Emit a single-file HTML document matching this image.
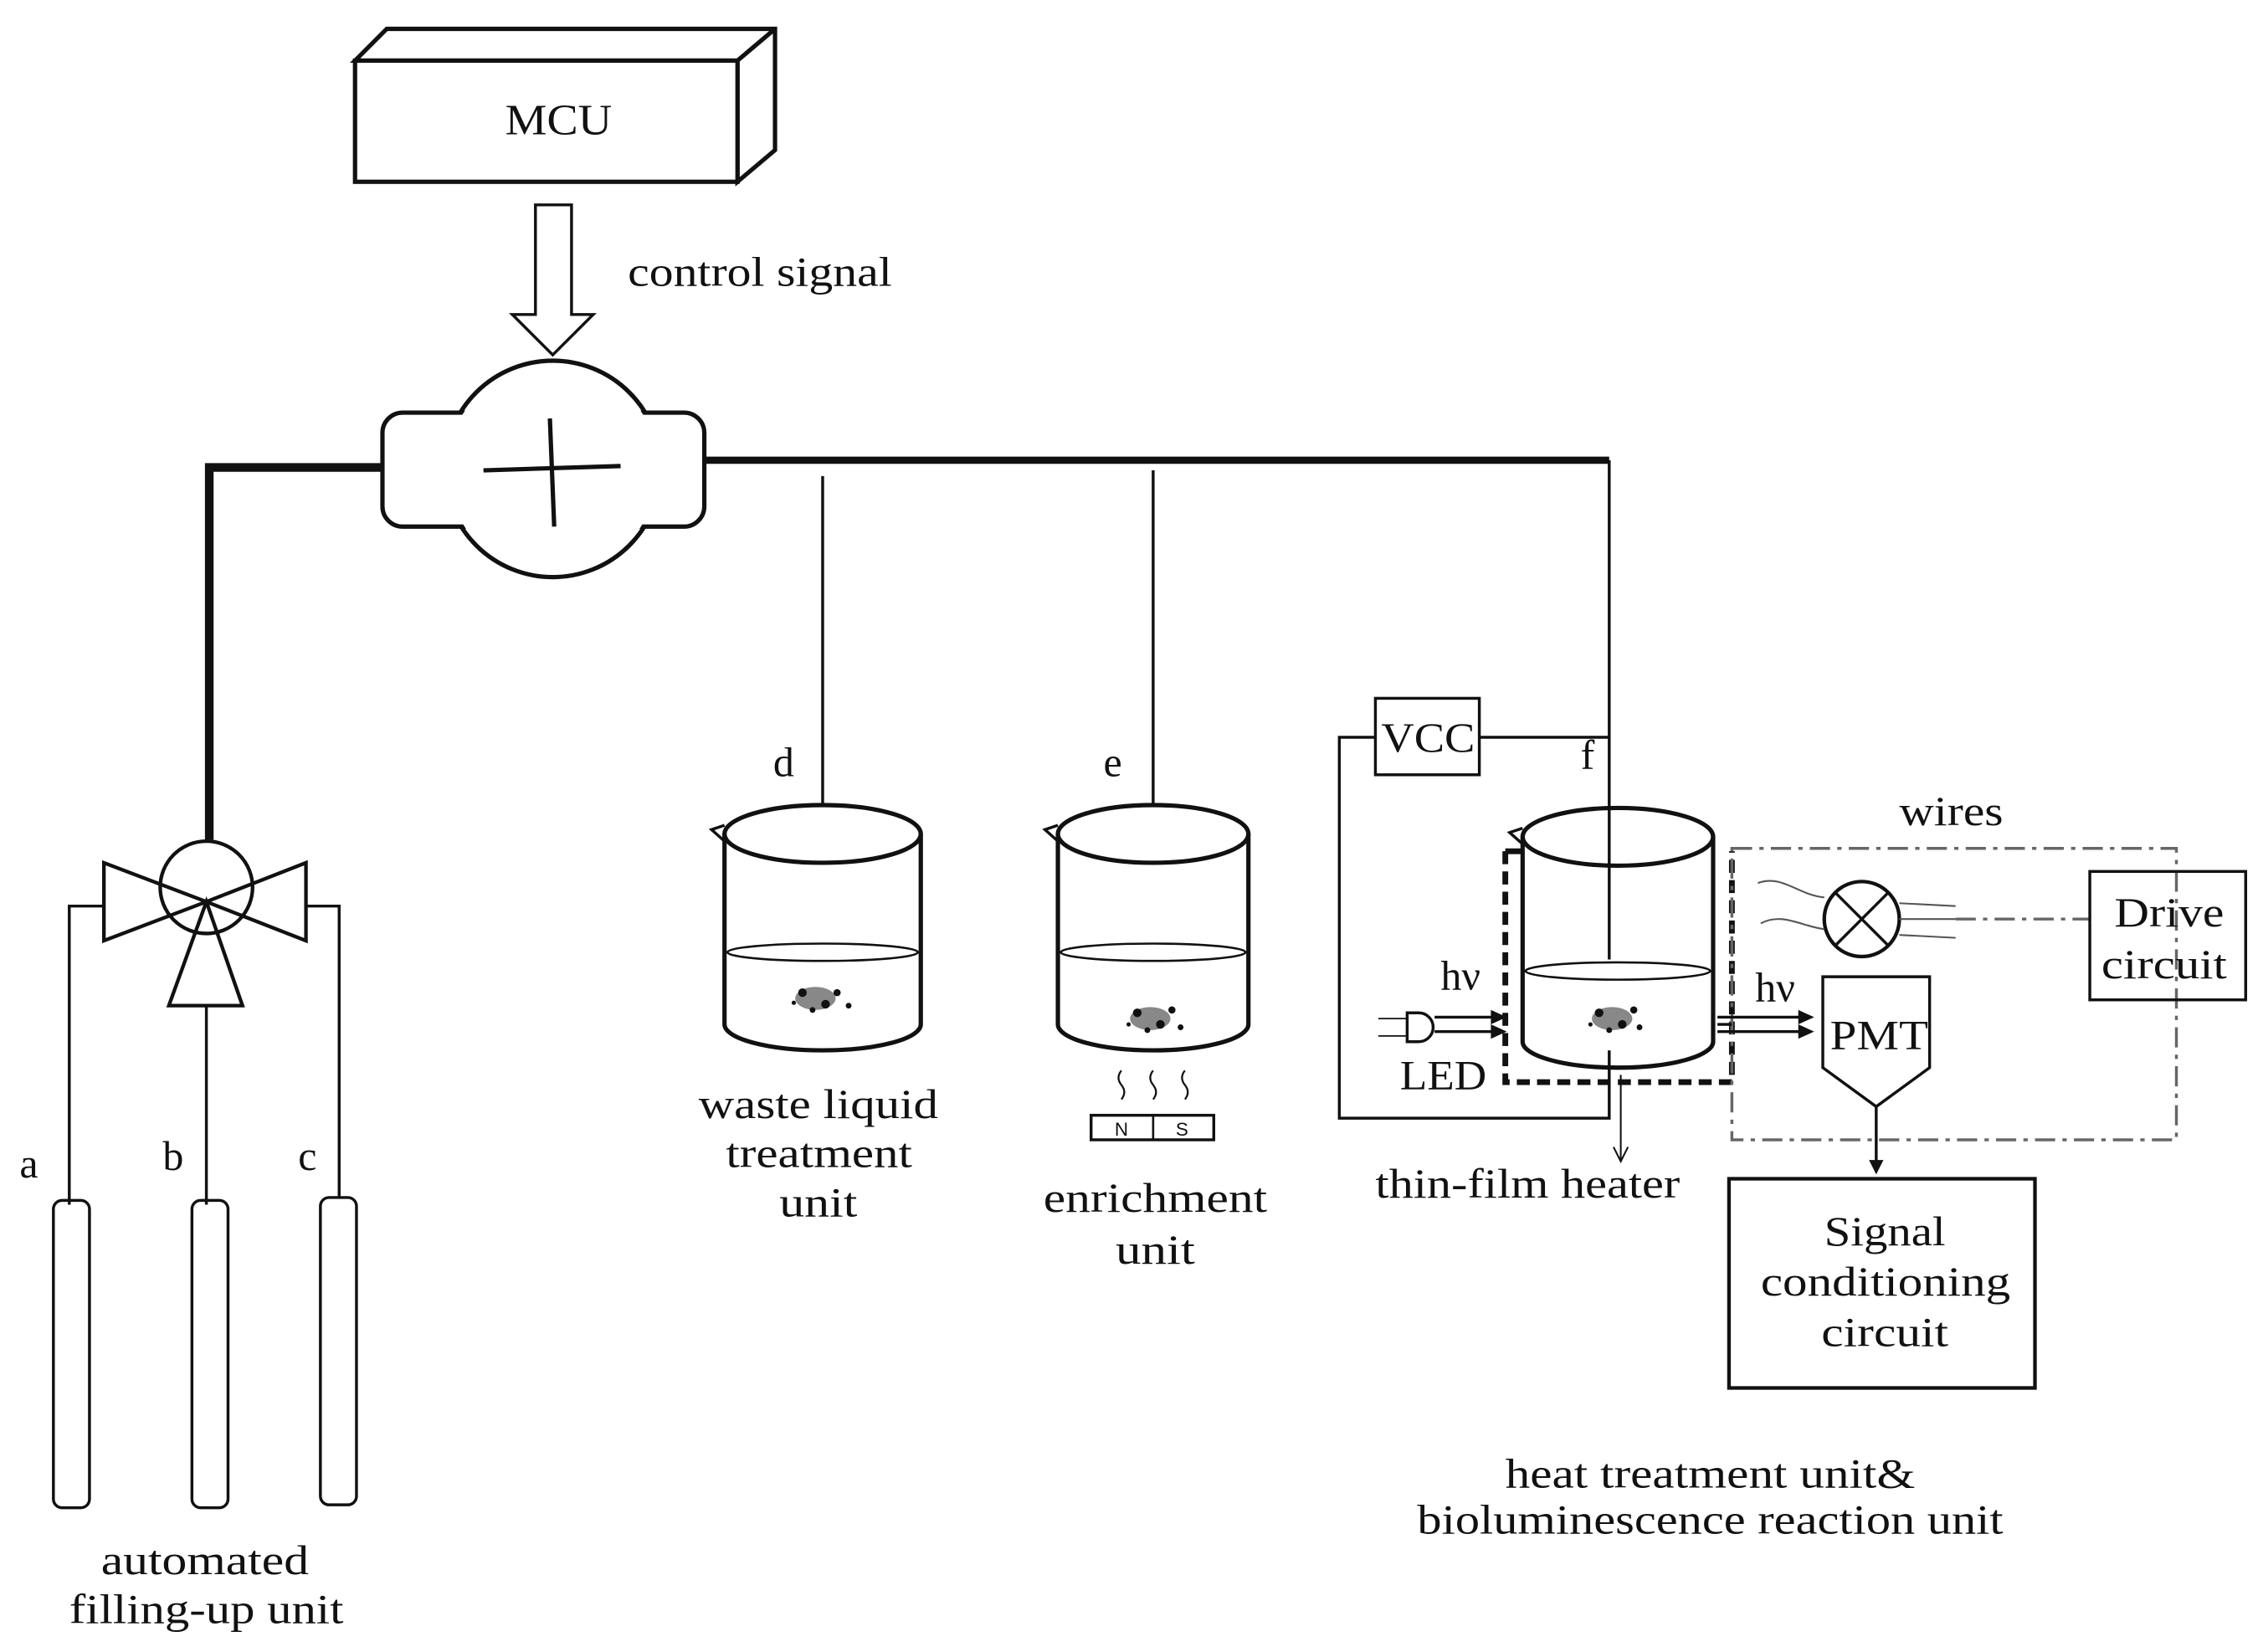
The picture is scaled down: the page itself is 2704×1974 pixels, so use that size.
<!DOCTYPE html>
<html><head><meta charset="utf-8"><style>
html,body{margin:0;padding:0;background:#fff}
svg{display:block}
text{font-family:"Liberation Serif",serif;fill:#111}
</style></head><body>
<svg width="2704" height="1974" viewBox="0 0 1568 1145" preserveAspectRatio="none" xmlns="http://www.w3.org/2000/svg">
<g fill="none" stroke="#111" stroke-width="3">
<polygon points="246,42 268,20 537,20 537,104 511,126 511,42" fill="#fff"/>
<line x1="511" y1="42" x2="537" y2="20"/>
<rect x="246" y="42" width="265" height="84" fill="#fff"/>
<polygon points="371,142 396,142 396,218 411,218 383,246 355,218 371,218" stroke-width="2"/>
<polyline points="268,324 145,324 145,582" stroke-width="6"/>
<line x1="485" y1="319" x2="1115" y2="319" stroke-width="5"/>
<circle cx="383" cy="325" r="75" fill="#fff"/>
<rect x="265" y="286" width="223" height="79" rx="14" fill="#fff"/>
<rect x="267" y="288" width="219" height="75" rx="13" fill="#fff" stroke="none"/>
<circle cx="383" cy="325" r="73" fill="#fff" stroke="none"/>
<line x1="335" y1="326" x2="430" y2="323"/>
<line x1="381" y1="290" x2="384" y2="365"/>
<line x1="570" y1="330" x2="570" y2="558" stroke-width="2"/>
<line x1="799" y1="326" x2="799" y2="558" stroke-width="2"/>
<line x1="1115" y1="319" x2="1115" y2="665" stroke-width="2"/>
<rect x="953" y="484" width="72" height="53" stroke-width="2"/>
<line x1="1025" y1="511" x2="1115" y2="511" stroke-width="2"/>
<polyline points="953,511 928,511 928,775 1115,775 1115,728" stroke-width="2"/>
<g stroke-width="3">
<path d="M502,578 L502,710 A68,18 0 0 0 638,710 L638,578"/>
<ellipse cx="570" cy="578" rx="68" ry="20"/>
<path d="M502,572 L493,575 L502,583" stroke-width="2"/>
<ellipse cx="570" cy="660" rx="66" ry="6" stroke-width="1.5"/>
<path d="M733,578 L733,710 A66,18 0 0 0 865,710 L865,578"/>
<ellipse cx="799" cy="578" rx="66" ry="20"/>
<path d="M733,572 L724,575 L733,583" stroke-width="2"/>
<ellipse cx="799" cy="660" rx="64" ry="6" stroke-width="1.5"/>
<path d="M1055,580 L1055,722 A66,18 0 0 0 1187,722 L1187,580"/>
<ellipse cx="1121" cy="580" rx="66" ry="20"/>
<path d="M1055,574 L1046,577 L1055,585" stroke-width="2"/>
<ellipse cx="1121" cy="673" rx="64" ry="6" stroke-width="1.5"/>
</g>
<polyline points="1043,590 1043,750 1200,750 1200,590" stroke-width="4" stroke-dasharray="9,5"/>
<line x1="1043" y1="590" x2="1055" y2="590" stroke-width="4"/>
<g stroke="#666" stroke-width="2" stroke-dasharray="14,5,3,5">
<rect x="1200" y="588" width="308" height="202"/>
<line x1="1355" y1="637" x2="1448" y2="637"/>
</g>
<circle cx="1290" cy="637" r="26" stroke-width="2.5"/>
<line x1="1272" y1="619" x2="1308" y2="655" stroke-width="2"/>
<line x1="1308" y1="619" x2="1272" y2="655" stroke-width="2"/>
<g stroke="#555" stroke-width="1.2">
<line x1="1316" y1="626" x2="1355" y2="628"/><line x1="1316" y1="637" x2="1355" y2="637"/><line x1="1316" y1="648" x2="1355" y2="650"/>
<path d="M1218,612 C1235,606 1245,620 1264,622"/>
<path d="M1220,640 C1235,632 1248,642 1264,644"/>
</g>
<rect x="1448" y="604" width="108" height="89" stroke-width="2"/>
<polygon points="1263,677 1337,677 1337,740 1300,767 1263,740" stroke-width="2"/>
<line x1="1300" y1="767" x2="1300" y2="808" stroke-width="2"/>
<polygon points="1295,804 1305,804 1300,814" fill="#111" stroke="none"/>
<rect x="1198" y="817" width="212" height="145" stroke-width="2.5"/>
<g stroke-width="2">
<line x1="1190" y1="705" x2="1250" y2="705"/><line x1="1190" y1="715" x2="1250" y2="715"/>
<line x1="1190" y1="710" x2="1200" y2="710"/>
<line x1="994" y1="705" x2="1036" y2="705"/><line x1="994" y1="715" x2="1036" y2="715"/>
<line x1="955" y1="706" x2="975" y2="706" stroke-width="1"/><line x1="955" y1="718" x2="975" y2="718" stroke-width="1"/>
<path d="M975,702 L983,702 A10,10 0 0 1 983,722 L975,722 Z"/>
</g>
<g fill="#111" stroke="none">
<polygon points="1246,700 1257,705 1246,710"/><polygon points="1246,710 1257,715 1246,720"/>
<polygon points="1033,700 1044,705 1033,710"/><polygon points="1033,710 1044,715 1033,720"/>
</g>
<line x1="1123" y1="745" x2="1123" y2="805" stroke-width="1.2"/>
<polyline points="1118,795 1123,805 1128,795" stroke-width="1.2"/>
<rect x="756" y="773" width="85" height="17" stroke-width="2"/>
<line x1="799" y1="773" x2="799" y2="790" stroke-width="1.5"/>
<g stroke-width="1.3">
<path d="M777,742 q-4,5 0,10 q4,5 0,10"/><path d="M799,742 q-4,5 0,10 q4,5 0,10"/><path d="M821,742 q-4,5 0,10 q4,5 0,10"/>
</g>
<polygon points="72,598 72,652 143,625" fill="#fff" stroke-width="2.5"/>
<polygon points="212,598 212,652 143,625" fill="#fff" stroke-width="2.5"/>
<polygon points="117,697 168,697 143,625" fill="#fff" stroke-width="2.5"/>
<circle cx="143" cy="615" r="32" stroke-width="2.5"/>
<g stroke-width="2">
<polyline points="72,628 48,628 48,835"/>
<polyline points="212,628 235,628 235,830"/>
<line x1="143" y1="697" x2="143" y2="835"/>
<rect x="37" y="832" width="25" height="213" rx="6"/>
<rect x="133" y="832" width="25" height="213" rx="6"/>
<rect x="222" y="830" width="25" height="213" rx="6"/>
</g>
</g>
<g fill="#111">
<ellipse cx="565" cy="692" rx="14" ry="8" opacity="0.5"/><circle cx="556" cy="688" r="3"/><circle cx="572" cy="696" r="3"/><circle cx="580" cy="688" r="2.5"/><circle cx="563" cy="700" r="2"/><circle cx="588" cy="697" r="2"/><circle cx="550" cy="695" r="1.5"/>
<ellipse cx="797" cy="706" rx="14" ry="8" opacity="0.5"/><circle cx="788" cy="702" r="3"/><circle cx="804" cy="710" r="3"/><circle cx="812" cy="700" r="2.5"/><circle cx="795" cy="714" r="2"/><circle cx="818" cy="712" r="2"/><circle cx="782" cy="710" r="1.5"/>
<ellipse cx="1117" cy="706" rx="14" ry="8" opacity="0.5"/><circle cx="1108" cy="702" r="3"/><circle cx="1124" cy="710" r="3"/><circle cx="1132" cy="700" r="2.5"/><circle cx="1115" cy="714" r="2"/><circle cx="1136" cy="712" r="2"/><circle cx="1102" cy="710" r="1.5"/>
</g>
<g font-size="29">
<text x="350" y="93" font-size="30" textLength="74" lengthAdjust="spacingAndGlyphs">MCU</text>
<text x="435" y="198" textLength="183" lengthAdjust="spacingAndGlyphs">control signal</text>
<text x="543" y="538" text-anchor="middle">d</text>
<text x="771" y="538" text-anchor="middle">e</text>
<text x="1100" y="533" text-anchor="middle">f</text>
<text x="957" y="521" textLength="65" lengthAdjust="spacingAndGlyphs">VCC</text>
<text x="1316" y="572" textLength="72" lengthAdjust="spacingAndGlyphs">wires</text>
<text x="1465" y="642" textLength="76" lengthAdjust="spacingAndGlyphs">Drive</text>
<text x="1456" y="678" textLength="87" lengthAdjust="spacingAndGlyphs">circuit</text>
<text x="1268" y="727" textLength="68" lengthAdjust="spacingAndGlyphs">PMT</text>
<text x="1230" y="694" text-anchor="middle">hν</text>
<text x="1012" y="686" text-anchor="middle">hν</text>
<text x="970" y="755" textLength="60" lengthAdjust="spacingAndGlyphs">LED</text>
<text x="953" y="830" textLength="211" lengthAdjust="spacingAndGlyphs">thin-film heater</text>
<text x="1264" y="863" textLength="84" lengthAdjust="spacingAndGlyphs">Signal</text>
<text x="1220" y="898" textLength="173" lengthAdjust="spacingAndGlyphs">conditioning</text>
<text x="1262" y="933" textLength="88" lengthAdjust="spacingAndGlyphs">circuit</text>
<text x="20" y="816" text-anchor="middle">a</text>
<text x="120" y="811" text-anchor="middle">b</text>
<text x="213" y="811" text-anchor="middle">c</text>
<text x="484" y="775" textLength="166" lengthAdjust="spacingAndGlyphs">waste liquid</text>
<text x="503" y="809" textLength="129" lengthAdjust="spacingAndGlyphs">treatment</text>
<text x="540" y="843" textLength="54" lengthAdjust="spacingAndGlyphs">unit</text>
<text x="723" y="840" textLength="155" lengthAdjust="spacingAndGlyphs">enrichment</text>
<text x="773" y="876" textLength="55" lengthAdjust="spacingAndGlyphs">unit</text>
<text x="70" y="1091" textLength="144" lengthAdjust="spacingAndGlyphs">automated</text>
<text x="48" y="1125" textLength="190" lengthAdjust="spacingAndGlyphs">filling-up unit</text>
<text x="1043" y="1031" textLength="284" lengthAdjust="spacingAndGlyphs">heat treatment unit&amp;</text>
<text x="982" y="1063" textLength="406" lengthAdjust="spacingAndGlyphs">bioluminescence reaction unit</text>
</g>
<g font-size="13"><text x="777" y="787" text-anchor="middle" style="font-family:'Liberation Sans',sans-serif">N</text><text x="819" y="787" text-anchor="middle" style="font-family:'Liberation Sans',sans-serif">S</text></g>
</svg>
</body></html>
